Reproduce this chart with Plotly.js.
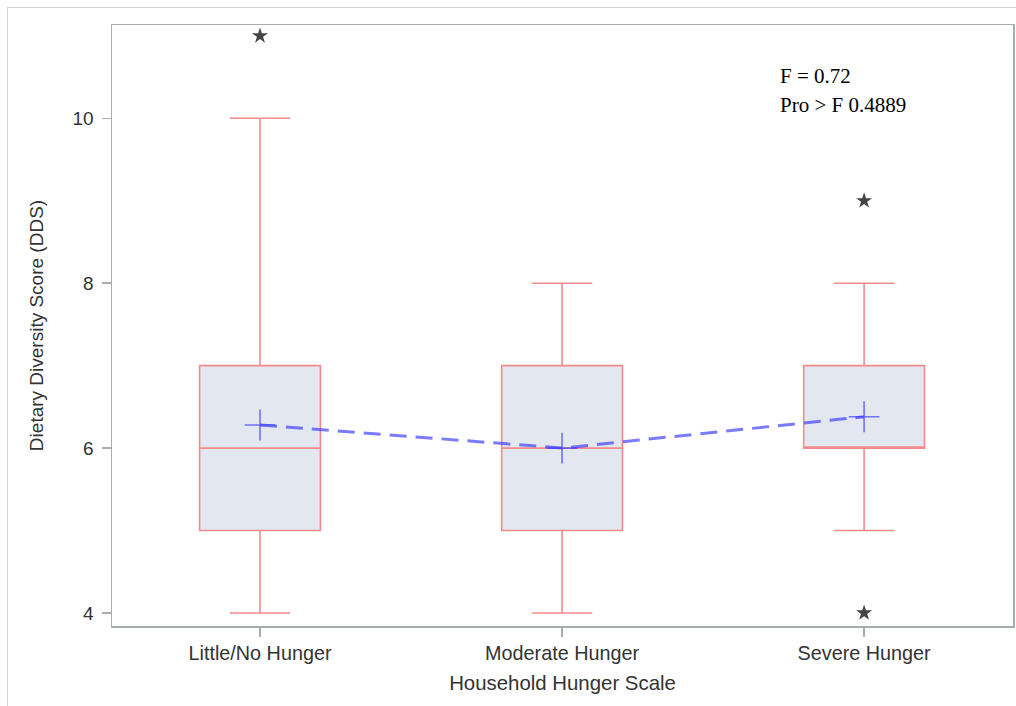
<!DOCTYPE html>
<html>
<head>
<meta charset="utf-8">
<script src="https://cdn.plot.ly/plotly-3.0.1.min.js"></script>
<style>
  html, body { margin: 0; padding: 0; background: #ffffff; }
  #frame { position: absolute; left: 7px; top: 7px; width: 1100px; height: 800px; border: 1.5px solid #d4d4d4; box-sizing: border-box; pointer-events: none; }
  #chart { position: absolute; left: 0; top: 0; width: 1016px; height: 706px; }
</style>
</head>
<body>
<div id="frame"></div>
<div id="chart"></div>
<script>
// ---- data ----
var categories = ["Little/No Hunger", "Moderate Hunger", "Severe Hunger"];
var lowerWhisker = [4, 4, 5];
var q1Values = [5, 5, 6];
var medianValues = [6, 6, 6];
var q3Values = [7, 7, 7];
var upperWhisker = [10, 8, 8];
var meanValues = [6.28, 6.0, 6.38];
var outlierCategories = ["Little/No Hunger", "Severe Hunger", "Severe Hunger"];
var outlierValues = [11, 9, 4];
var yTickValues = [4, 6, 8, 10];
var statLines = ["F = 0.72", "Pro > F 0.4889"];

var boxLine = '#f58a8a';
var boxFill = '#e3e7f0';
var meanColor = 'rgba(60,60,255,0.68)';

var traces = [
  {
    type: 'box',
    x: categories,
    q1: q1Values,
    median: medianValues,
    q3: q3Values,
    lowerfence: lowerWhisker,
    upperfence: upperWhisker,
    boxpoints: false,
    width: 0.4,
    whiskerwidth: 0.5,
    fillcolor: boxFill,
    line: { color: boxLine, width: 1.6 },
    hoverinfo: 'skip',
    showlegend: false
  },
  {
    type: 'scatter',
    mode: 'lines+markers',
    x: categories,
    y: meanValues,
    line: { color: meanColor, width: 3, dash: '17px,9px' },
    marker: { symbol: 'cross-thin', size: 22, line: { color: meanColor, width: 1.6 }, color: meanColor },
    hoverinfo: 'skip',
    showlegend: false
  },
  {
    type: 'scatter',
    mode: 'markers',
    x: outlierCategories,
    y: outlierValues,
    marker: { symbol: 'star', size: 12, color: '#444444' },
    hoverinfo: 'skip',
    showlegend: false
  }
];

var axisColor = '#a9adb2';
var textColor = '#333333';
var layout = {
  width: 1016,
  height: 706,
  margin: { l: 112, r: 3, t: 25, b: 80 },
  paper_bgcolor: 'rgba(0,0,0,0)',
  plot_bgcolor: '#ffffff',
  font: { family: 'Liberation Sans, Arial, sans-serif', color: textColor, size: 18 },
  xaxis: {
    type: 'category',
    categoryorder: 'array',
    categoryarray: categories,
    range: [-0.49, 2.493],
    showline: true,
    mirror: true,
    linecolor: axisColor,
    linewidth: 1.5,
    ticks: 'outside',
    ticklen: 9,
    tickcolor: axisColor,
    tickwidth: 1.5,
    showgrid: false,
    zeroline: false,
    tickfont: { size: 19.8, color: textColor },
    title: { text: 'Household Hunger Scale', font: { size: 20.4, color: textColor }, standoff: 12 }
  },
  yaxis: {
    range: [3.842, 11.132],
    tickvals: yTickValues,
    ticktext: yTickValues.map(String),
    showline: true,
    mirror: true,
    linecolor: axisColor,
    linewidth: 1.5,
    ticks: 'outside',
    ticklen: 9,
    tickcolor: axisColor,
    tickwidth: 1.5,
    ticklabelstandoff: 4,
    showgrid: false,
    zeroline: false,
    tickfont: { size: 19, color: textColor },
    title: { text: 'Dietary Diversity Score (DDS)', font: { size: 19, color: textColor }, standoff: 24 }
  },
  annotations: [
    {
      xref: 'paper', yref: 'paper', x: 0.739, y: 0.915,
      xanchor: 'left', yanchor: 'middle', showarrow: false,
      text: statLines[0],
      font: { family: 'Liberation Serif, Times New Roman, serif', size: 21, color: '#000000' }
    },
    {
      xref: 'paper', yref: 'paper', x: 0.739, y: 0.867,
      xanchor: 'left', yanchor: 'middle', showarrow: false,
      text: statLines[1],
      font: { family: 'Liberation Serif, Times New Roman, serif', size: 21, color: '#000000' }
    }
  ]
};

Plotly.newPlot('chart', traces, layout, { displayModeBar: false, staticPlot: true });
</script>
</body>
</html>
